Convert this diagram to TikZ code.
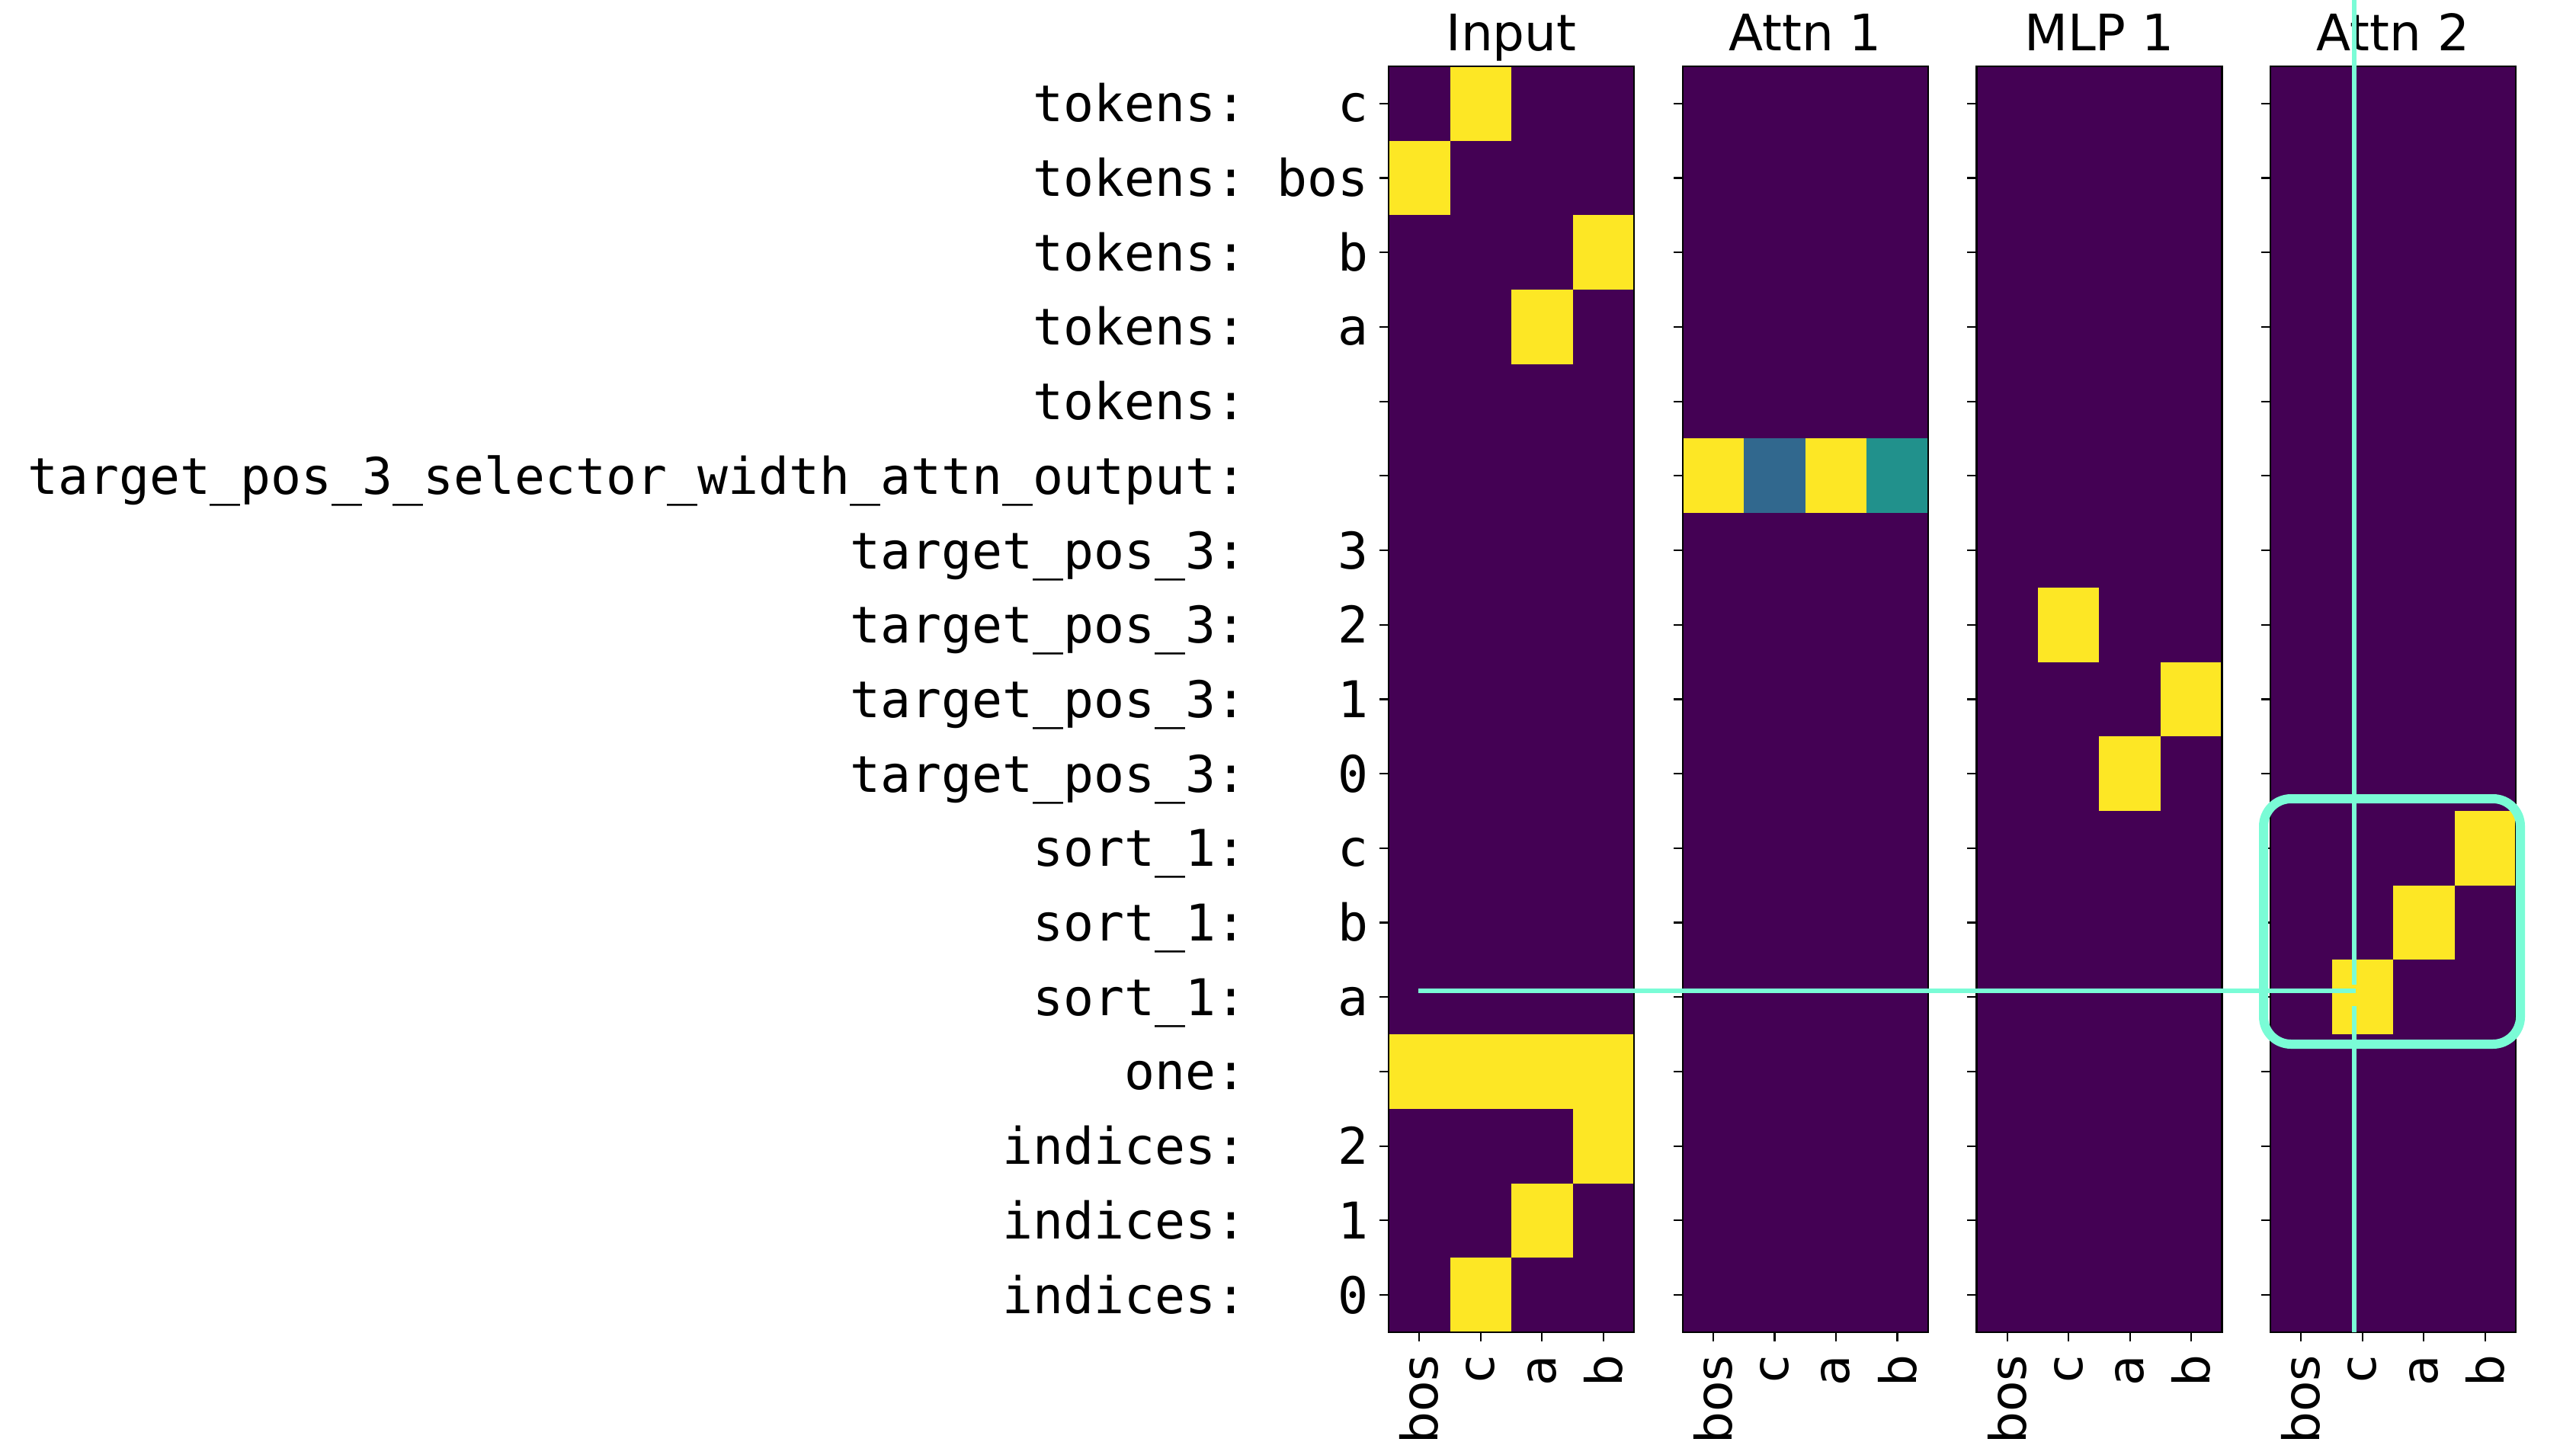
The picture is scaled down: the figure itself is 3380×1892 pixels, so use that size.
\documentclass[tikz,border=0pt]{standalone}
\usepackage{fontspec}
\setmainfont{DejaVu Sans}
\newfontfamily\monofont{DejaVu Sans Mono}

\definecolor{vdark}{HTML}{440154}
\definecolor{vyellow}{HTML}{FDE725}
\definecolor{vblue}{HTML}{31688E}
\definecolor{vteal}{HTML}{21918C}
\definecolor{hilite}{RGB}{122,252,214}

\tikzset{
  panelbg/.style={fill=vdark},
  panelframe/.style={draw=black, line width=0.6pt},
  tickline/.style={draw=black, line width=0.55pt},
  paneltitle/.style={inner sep=0pt, anchor=base, font=\fontsize{16.5}{19}\selectfont},
  rowname/.style={inner sep=0pt, anchor=base east, font=\monofont\fontsize{16.6}{19}\selectfont},
  collabel/.style={inner sep=0pt, anchor=east, rotate=90, font=\fontsize{16.5}{19}\selectfont},
  hl/.style={draw=hilite, line width=1.3pt},
  hlbox/.style={draw=hilite, line width=3pt, rounded corners=9pt},
}

\begin{document}
\begin{tikzpicture}[x=0.25pt, y=-0.25pt]
\useasboundingbox (0,0) rectangle (3380,1892);

% grid geometry (pixels): panel top, row height, column width, panel size
\def\ptop{87}
\def\rowh{97.7}
\def\colw{80.5}
\def\pw{322}
\def\ph{1661}

% panel backgrounds and titles
\foreach \k/\ttl in {0/Input, 1/Attn 1, 2/MLP 1, 3/Attn 2} {
  \pgfmathsetmacro\pl{1822+385.67*\k}
  \fill[panelbg] (\pl,\ptop) rectangle ++(\pw,\ph);
  \node[paneltitle] (title\k) at ({\pl+\pw/2},67) {\ttl};
}

% active cells: panel / row / column / colour
\foreach \k/\r/\c/\col in {
  0/0/1/vyellow, 0/1/0/vyellow, 0/2/3/vyellow, 0/3/2/vyellow,
  0/13/0/vyellow, 0/13/1/vyellow, 0/13/2/vyellow, 0/13/3/vyellow,
  0/14/3/vyellow, 0/15/2/vyellow, 0/16/1/vyellow,
  1/5/0/vyellow, 1/5/1/vblue, 1/5/2/vyellow, 1/5/3/vteal,
  2/7/1/vyellow, 2/8/3/vyellow, 2/9/2/vyellow,
  3/10/3/vyellow, 3/11/2/vyellow, 3/12/1/vyellow} {
  \pgfmathsetmacro\pl{1822+385.67*\k}
  \fill[\col] ({\pl+\c*\colw},{\ptop+\r*\rowh}) rectangle ++(\colw,\rowh);
}

% frames, row ticks, column ticks and column labels
\foreach \k in {0,1,2,3} {
  \pgfmathsetmacro\pl{1822+385.67*\k}
  \draw[panelframe] (\pl,\ptop) rectangle ++(\pw,\ph);
  \foreach \r in {0,...,16} {
    \draw[tickline] (\pl,{\ptop+(\r+0.5)*\rowh}) -- ++(-12,0);
  }
  \foreach \c/\lab in {0/bos, 1/c, 2/a, 3/b} {
    \draw[tickline] ({\pl+(\c+0.5)*\colw},{\ptop+\ph}) -- ++(0,12);
    \node[collabel] (col\k\c) at ({\pl+(\c+0.5)*\colw},1777) {\lab};
  }
}

% row labels: feature name and value
\foreach \r/\nm/\v in {
  0/tokens/c, 1/tokens/bos, 2/tokens/b, 3/tokens/a, 4/tokens/{},
  5/target\_pos\_3\_selector\_width\_attn\_output/{},
  6/target\_pos\_3/3, 7/target\_pos\_3/2, 8/target\_pos\_3/1, 9/target\_pos\_3/0,
  10/sort\_1/c, 11/sort\_1/b, 12/sort\_1/a, 13/one/{},
  14/indices/2, 15/indices/1, 16/indices/0} {
  \node[rowname] (name\r) at (1636,{\ptop+(\r+0.5)*\rowh+24}) {\nm:};
  \node[rowname] (val\r) at (1796,{\ptop+(\r+0.5)*\rowh+24}) {\v};
}

% highlighted block in the last panel
\draw[hlbox] (2970,1048) rectangle (3307,1370);

% cross-hair lines
\coordinate (hstart) at (1861,1300);
\coordinate (hend) at (3091,1300);
\coordinate (vtop) at (3089,0);
\coordinate (vgapa) at (3089,1292);
\coordinate (vgapb) at (3089,1320);
\coordinate (vbot) at (3089,1748);
\draw[hl] (hstart) -- (hend);
\draw[hl] (vtop) -- (vgapa);
\draw[hl] (vgapb) -- (vbot);
\end{tikzpicture}
\end{document}
